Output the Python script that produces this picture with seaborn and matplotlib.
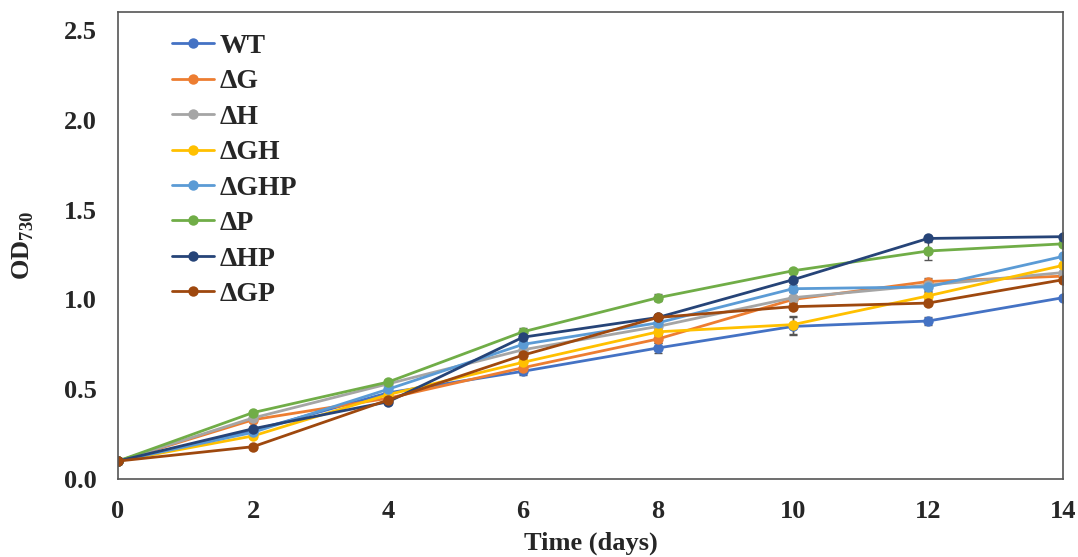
import numpy as np
import pandas as pd
import matplotlib
matplotlib.use("Agg")
import matplotlib.pyplot as plt
import seaborn as sns

# data
days = [0, 2, 4, 6, 8, 10, 12, 14]
strains = ["WT", "ΔG", "ΔH", "ΔGH", "ΔGHP", "ΔP", "ΔHP", "ΔGP"]
wt = [0.10, 0.27, 0.48, 0.60, 0.73, 0.85, 0.88, 1.01]
d_g = [0.10, 0.33, 0.45, 0.62, 0.78, 1.00, 1.10, 1.13]
d_h = [0.10, 0.34, 0.53, 0.72, 0.85, 1.01, 1.08, 1.15]
d_gh = [0.10, 0.24, 0.47, 0.65, 0.82, 0.86, 1.02, 1.19]
d_ghp = [0.10, 0.26, 0.50, 0.75, 0.87, 1.06, 1.07, 1.24]
d_p = [0.10, 0.37, 0.54, 0.82, 1.01, 1.16, 1.27, 1.31]
d_hp = [0.10, 0.28, 0.43, 0.79, 0.90, 1.11, 1.34, 1.35]
d_gp = [0.10, 0.18, 0.44, 0.69, 0.90, 0.96, 0.98, 1.11]
# small standard deviations (error bars)
err_wt = [0.0, 0.01, 0.01, 0.02, 0.03, 0.05, 0.02, 0.01]
err_g = [0.0, 0.01, 0.01, 0.01, 0.02, 0.02, 0.02, 0.01]
err_h = [0.0, 0.01, 0.01, 0.01, 0.02, 0.03, 0.02, 0.01]
err_gh = [0.0, 0.01, 0.01, 0.01, 0.02, 0.05, 0.02, 0.01]
err_ghp = [0.0, 0.01, 0.01, 0.02, 0.01, 0.02, 0.02, 0.01]
err_p = [0.0, 0.01, 0.01, 0.02, 0.02, 0.01, 0.05, 0.01]
err_hp = [0.0, 0.01, 0.01, 0.02, 0.01, 0.01, 0.01, 0.01]
err_gp = [0.0, 0.01, 0.01, 0.02, 0.01, 0.01, 0.01, 0.01]

values = [wt, d_g, d_h, d_gh, d_ghp, d_p, d_hp, d_gp]
errors = [err_wt, err_g, err_h, err_gh, err_ghp, err_p, err_hp, err_gp]
colors = ["#4472C4", "#ED7D31", "#A5A5A5", "#FFC000",
          "#5B9BD5", "#70AD47", "#264478", "#9E480E"]

rows = []
for s, v, e in zip(strains, values, errors):
    for d, y, er in zip(days, v, e):
        rows.append({"day": d, "od": y, "err": er, "strain": s})
df = pd.DataFrame(rows)

sns.set_style("white")
plt.rcParams["font.family"] = ["Liberation Serif", "DejaVu Serif"]
plt.rcParams["font.weight"] = "bold"
plt.rcParams["mathtext.fontset"] = "custom"
plt.rcParams["mathtext.bf"] = "Liberation Serif:bold"
plt.rcParams["mathtext.rm"] = "Liberation Serif:bold"

fig = plt.figure(figsize=(10.78, 5.57), dpi=100)
ax = fig.add_axes([0.1095, 0.14, 0.8765, 0.838])

# error bars first so they sit beneath the lines
for s, c in zip(strains, colors):
    sub = df[df.strain == s]
    ax.errorbar(sub.day, sub.od, yerr=sub.err, fmt="none",
                ecolor="#555555", elinewidth=1, capsize=3, zorder=1)

sns.lineplot(data=df, x="day", y="od", hue="strain", hue_order=strains,
             palette=colors, marker="o", markersize=7.5, markeredgewidth=0,
             linewidth=2.0, ax=ax, zorder=2)

ax.set_xlim(0, 14)
ax.set_ylim(0, 2.6)
ax.set_xticks(range(0, 15, 2))
ax.set_yticks([0, 0.5, 1.0, 1.5, 2.0, 2.5])
ax.set_yticklabels(["0.0", "0.5", "1.0", "1.5", "2.0", "2.5"])
ax.tick_params(axis="both", labelsize=19, length=0)
ax.tick_params(axis="y", pad=15)
ax.tick_params(axis="x", pad=15)
for lab in ax.get_xticklabels() + ax.get_yticklabels():
    lab.set_fontweight("bold")
ax.set_xlabel("Time (days)", fontsize=19, fontweight="bold", labelpad=6)
ax.set_ylabel("OD$_{\\mathbf{730}}$", fontsize=19, fontweight="bold", labelpad=20)

for sp in ax.spines.values():
    sp.set_color("#555555")
    sp.set_linewidth(1.2)

leg = ax.legend(loc="upper left", bbox_to_anchor=(0.031, 1.008), frameon=False,
                labelspacing=0.36, handlelength=1.5,
                handletextpad=0.2, prop={"weight": "bold", "size": 20})

fig.savefig("out.png", dpi=100)
